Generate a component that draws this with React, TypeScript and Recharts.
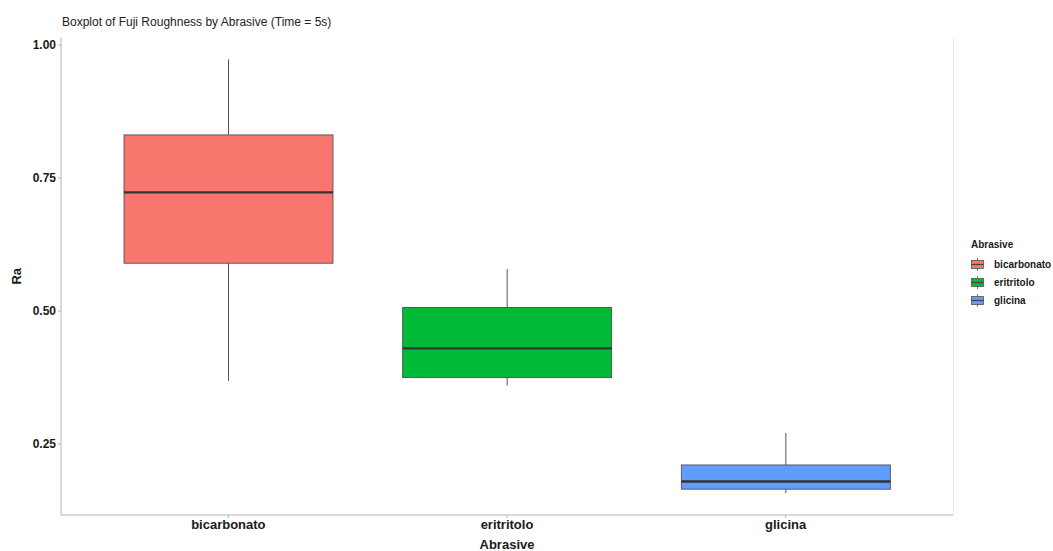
import React from 'react';
import { ComposedChart, Bar, XAxis, YAxis, Label } from 'recharts';

// Five-number summaries of Ra per abrasive
const categories = ['bicarbonato', 'eritritolo', 'glicina'];
const whiskerLow = [0.369, 0.36, 0.158];
const quartile1 = [0.59, 0.375, 0.1655];
const medians = [0.723, 0.43, 0.18];
const quartile3 = [0.831, 0.507, 0.211];
const whiskerHigh = [0.973, 0.579, 0.271];
const fillColors = ['#F8766D', '#00BA38', '#619CFF'];
const yTicks = [0.25, 0.5, 0.75, 1.0];

const FONT = '"Liberation Sans", Arial, sans-serif';

const data = categories.map((c, i) => ({
  abrasive: c,
  range: [whiskerLow[i], whiskerHigh[i]],
  lo: whiskerLow[i],
  q1: quartile1[i],
  med: medians[i],
  q3: quartile3[i],
  hi: whiskerHigh[i],
  fill: fillColors[i],
}));

const BoxShape = (props: any) => {
  const { x, y, width, height, payload } = props;
  const top = Math.min(y, y + height);
  const bottom = Math.max(y, y + height);
  const { lo, hi, q1, med, q3, fill } = payload;
  const px = (v: number) => top + ((hi - v) / (hi - lo)) * (bottom - top);
  const cx = x + width / 2;
  return (
    <g>
      <line x1={cx} x2={cx} y1={px(hi)} y2={px(q3)} stroke="#555" strokeWidth={1} />
      <line x1={cx} x2={cx} y1={px(q1)} y2={px(lo)} stroke="#555" strokeWidth={1} />
      <rect x={x} y={px(q3)} width={width} height={px(q1) - px(q3)} fill={fill} stroke="#444" strokeWidth={0.8} />
      <line x1={x} x2={x + width} y1={px(med)} y2={px(med)} stroke="#333" strokeWidth={2.4} />
    </g>
  );
};

const LegendKey = ({ color }: { color: string }) => (
  <svg width={13} height={13} style={{ display: 'block' }}>
    <line x1={6.5} x2={6.5} y1={0} y2={13} stroke="#555" strokeWidth={0.8} />
    <rect x={0.5} y={2.5} width={12} height={8} fill={color} stroke="#555" strokeWidth={0.8} />
    <line x1={0.5} x2={12.5} y1={6.5} y2={6.5} stroke="#444" strokeWidth={1.2} />
  </svg>
);

export default function App() {
  return (
    <div style={{ position: 'absolute', left: 0, top: 0, width: 1053, height: 551, background: '#fff', fontFamily: FONT, overflow: 'hidden' }}>
      <div style={{ position: 'absolute', left: 62, top: 15, fontSize: 12, color: '#222', whiteSpace: 'nowrap' }}>
        Boxplot of Fuji Roughness by Abrasive (Time = 5s)
      </div>
      <ComposedChart width={1053} height={551} data={data} margin={{ top: 37.5, right: 100, bottom: 0, left: 0 }}>
        <XAxis
          dataKey="abrasive"
          padding={{ left: 28, right: 28 }}
          height={36}
          tickSize={3}
          stroke="#b5b5b5"
          tick={{ fill: '#1a1a1a', fontSize: 13, fontWeight: 'bold', fontFamily: FONT }}
        >
          <Label value="Abrasive" position="insideBottom" offset={2} style={{ fill: '#1a1a1a', fontSize: 13, fontWeight: 'bold', fontFamily: FONT }} />
        </XAxis>
        <YAxis
          type="number"
          domain={[0.117, 1.014]}
          ticks={yTicks}
          allowDataOverflow
          width={61}
          tickSize={3}
          stroke="#b5b5b5"
          tickFormatter={(v: number) => v.toFixed(2)}
          tick={{ fill: '#1a1a1a', fontSize: 12, fontWeight: 'bold', fontFamily: FONT }}
        >
          <Label value="Ra" angle={-90} position="insideLeft" offset={16} textAnchor="middle" style={{ fill: '#1a1a1a', fontSize: 13, fontWeight: 'bold', fontFamily: FONT, textAnchor: 'middle' }} />
        </YAxis>
        <Bar dataKey="range" barSize={209} shape={<BoxShape />} isAnimationActive={false} />
      </ComposedChart>
      <div style={{ position: 'absolute', left: 953, top: 38, width: 0, height: 477, borderLeft: '1px solid #ececec' }} />
      <div style={{ position: 'absolute', left: 971, top: 239, fontFamily: FONT }}>
        <div style={{ fontSize: 10, fontWeight: 'bold', color: '#1a1a1a', marginBottom: 5 }}>Abrasive</div>
        {categories.map((c, i) => (
          <div key={c} style={{ display: 'flex', alignItems: 'center', height: 18 }}>
            <LegendKey color={fillColors[i]} />
            <span style={{ fontSize: 10, fontWeight: 'bold', color: '#1a1a1a', marginLeft: 10, whiteSpace: 'nowrap' }}>{c}</span>
          </div>
        ))}
      </div>
    </div>
  );
}
